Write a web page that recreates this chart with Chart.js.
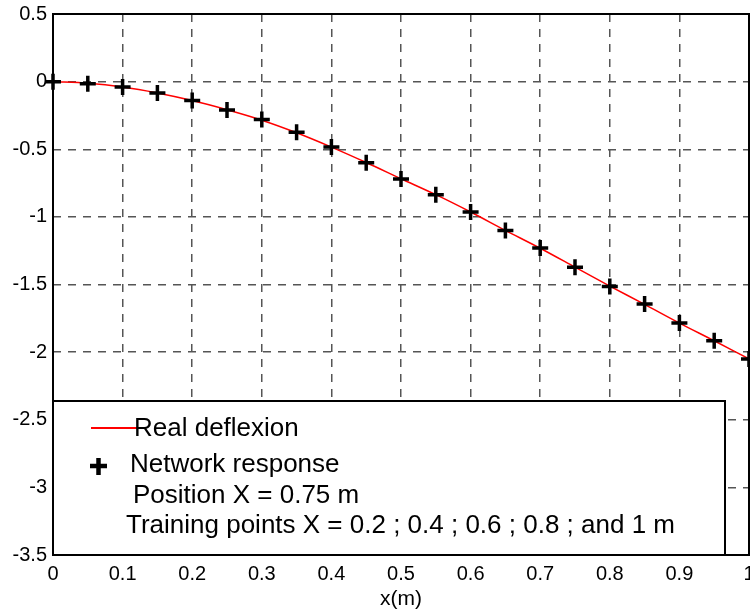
<!DOCTYPE html>
<html>
<head>
<meta charset="utf-8">
<script src="https://cdn.jsdelivr.net/npm/chart.js@4"></script>
<style>
  body { margin: 0; background: #fff; }
  #wrap { width: 750px; height: 615px; overflow: hidden; }
</style>
</head>
<body>
<div id="wrap"><canvas id="deflexionChart" width="800" height="615"></canvas></div>
<script>
const xValues = [0, 0.05, 0.1, 0.15, 0.2, 0.25, 0.3, 0.35, 0.4, 0.45, 0.5, 0.55, 0.6, 0.65, 0.7, 0.75, 0.8, 0.85, 0.9, 0.95, 1];
const realDeflexion = [0, -0.012, -0.04, -0.084, -0.14, -0.208, -0.285, -0.378, -0.484, -0.598, -0.718, -0.836, -0.964, -1.1, -1.232, -1.372, -1.512, -1.647, -1.785, -1.916, -2.05];
const networkResponse = [0, -0.015, -0.04, -0.084, -0.14, -0.21, -0.28, -0.375, -0.484, -0.6, -0.72, -0.836, -0.964, -1.1, -1.23, -1.373, -1.514, -1.645, -1.785, -1.916, -2.05];
const xTickLabels = ['0', '0.1', '0.2', '0.3', '0.4', '0.5', '0.6', '0.7', '0.8', '0.9', '1'];
const yTickLabels = ['-3.5', '-3', '-2.5', '-2', '-1.5', '-1', '-0.5', '0', '0.5'];
const legendLines = ['Real deflexion', 'Network response', 'Position X = 0.75 m', 'Training points X = 0.2 ; 0.4 ; 0.6 ; 0.8 ; and 1 m'];

const FONT = 'Liberation Sans, Arial, sans-serif';
const gridStyle = { color: '#555', lineWidth: 1.5, drawTicks: false };

// frame around the axes + the boxed legend in the lower left
const boxPlugin = {
  id: 'boxPlugin',
  afterDatasetsDraw(chart) {
    const { ctx, chartArea: a } = chart;
    ctx.save();
    ctx.strokeStyle = '#000';
    ctx.lineWidth = 2;
    ctx.strokeRect(a.left, a.top, a.right - a.left, a.bottom - a.top);

    const bx = a.left, by = a.bottom - 154, bw = 672, bh = 154;
    ctx.fillStyle = '#fff';
    ctx.fillRect(bx, by, bw, bh);
    ctx.strokeRect(bx, by, bw, bh);

    ctx.font = '26px ' + FONT;
    ctx.fillStyle = '#000';
    ctx.textBaseline = 'middle';

    ctx.strokeStyle = '#ff0000';
    ctx.lineWidth = 2;
    ctx.beginPath();
    ctx.moveTo(bx + 38, by + 27);
    ctx.lineTo(bx + 87, by + 27);
    ctx.stroke();
    ctx.fillText(legendLines[0], bx + 81, by + 28);

    ctx.strokeStyle = '#000';
    ctx.lineWidth = 4.5;
    ctx.beginPath();
    ctx.moveTo(bx + 37, by + 65); ctx.lineTo(bx + 54, by + 65);
    ctx.moveTo(bx + 45.5, by + 57); ctx.lineTo(bx + 45.5, by + 74);
    ctx.stroke();
    ctx.fillText(legendLines[1], bx + 77, by + 64);
    ctx.fillText(legendLines[2], bx + 80, by + 95);
    ctx.fillText(legendLines[3], bx + 73, by + 125);
    ctx.restore();
  }
};

new Chart(document.getElementById('deflexionChart'), {
  type: 'line',
  data: {
    datasets: [
      {
        label: 'Network response',
        data: xValues.map((x, i) => ({ x: x, y: networkResponse[i] })),
        showLine: false,
        pointStyle: 'cross',
        pointRadius: 8,
        pointBorderWidth: 3.5,
        pointBorderColor: '#000',
        borderColor: '#000',
        clip: false
      },
      {
        label: 'Real deflexion',
        data: xValues.map((x, i) => ({ x: x, y: realDeflexion[i] })),
        borderColor: '#ff0000',
        borderWidth: 1.5,
        pointRadius: 0,
        tension: 0.3
      }
    ]
  },
  options: {
    responsive: false,
    devicePixelRatio: 1,
    animation: false,
    layout: { padding: { top: 14, right: 51, left: 0, bottom: 0 } },
    plugins: { legend: { display: false }, tooltip: { enabled: false } },
    scales: {
      x: {
        type: 'linear',
        min: 0, max: 1,
        border: { display: false, dash: [8, 7] },
        grid: gridStyle,
        afterFit: (s) => { s.height = 60; },
        ticks: {
          stepSize: 0.1, padding: 7, color: '#000',
          font: { family: FONT, size: 20 },
          maxRotation: 0,
          callback: (v, i) => xTickLabels[i]
        },
        title: { display: true, text: 'x(m)', color: '#000', font: { family: FONT, size: 21 }, padding: { top: 1, bottom: 3 } }
      },
      y: {
        min: -3.5, max: 0.5,
        border: { display: false, dash: [8, 7] },
        grid: gridStyle,
        afterFit: (s) => { s.width = 53; s.paddingTop = 0; s.paddingBottom = 0; },
        ticks: {
          stepSize: 0.5, padding: 6, color: '#000',
          font: { family: FONT, size: 20 },
          callback: (v, i) => yTickLabels[i]
        }
      }
    }
  },
  plugins: [boxPlugin]
});
</script>
</body>
</html>
